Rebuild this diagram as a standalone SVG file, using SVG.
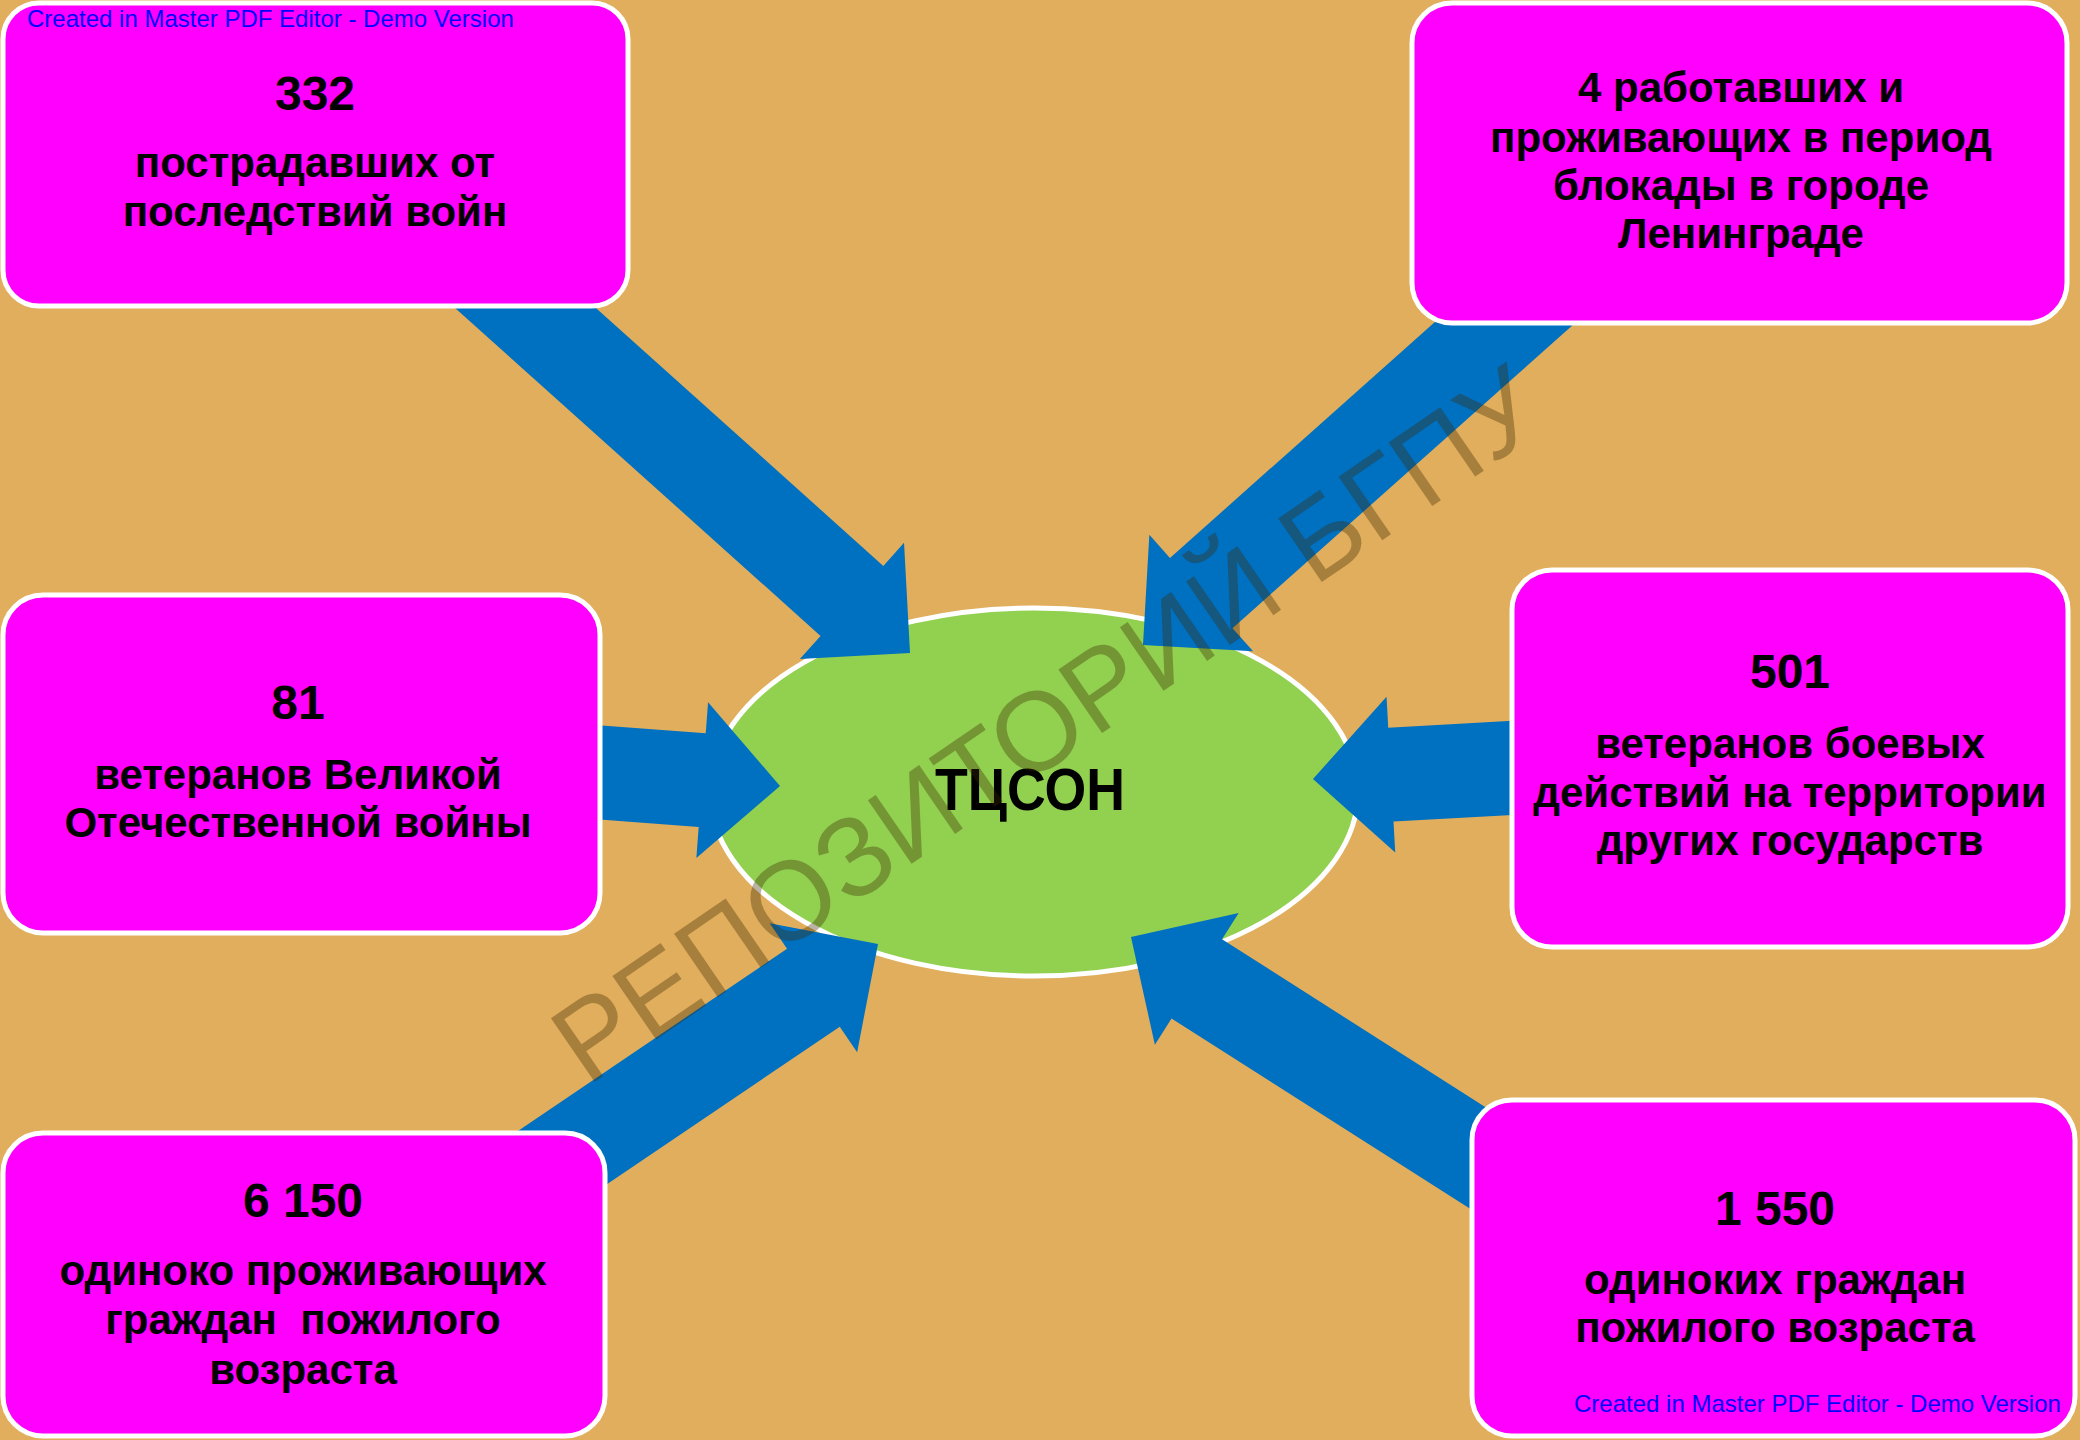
<svg xmlns="http://www.w3.org/2000/svg" width="2080" height="1440" viewBox="0 0 2080 1440">
  <style>
    .box { fill: #FF00FF; stroke: #FFFFFF; stroke-width: 5; }
    .lbl { font-family: "Liberation Sans", Arial, sans-serif; font-weight: bold; fill: #000000; text-anchor: middle; }
    .num { font-size: 48px; }
    .txt { font-size: 42px; }
    .demo { font-family: "Liberation Sans", Arial, sans-serif; font-size: 24px; fill: #0000FF; }
    .arrow { fill: #0070C0; }
    .wm { font-family: "Liberation Sans", Arial, sans-serif; font-size: 112px; fill: rgb(60,40,0); fill-opacity: 0.35; }
  </style>
  <rect x="0" y="0" width="2080" height="1440" fill="#E0AE5C"/>

  <g id="center">
    <ellipse cx="1034" cy="792" rx="324" ry="184" fill="#92D050" stroke="#FFFFFF" stroke-width="5"/>
  </g>

  <g id="connectors">
    <path class="arrow" d="M0,0 L-78,-78 L-78,-47 L-620,-47 L-620,47 L-78,47 L-78,78 Z" transform="translate(910,653) rotate(41.9)"/>
    <path class="arrow" d="M0,0 L-78,-78 L-78,-47 L-600,-47 L-600,47 L-78,47 L-78,78 Z" transform="translate(1143,645) rotate(138.3)"/>
    <path class="arrow" d="M0,0 L-78,-78 L-78,-47 L-260,-47 L-260,47 L-78,47 L-78,78 Z" transform="translate(780,786) rotate(4.3)"/>
    <path class="arrow" d="M0,0 L-78,-78 L-78,-47 L-270,-47 L-270,47 L-78,47 L-78,78 Z" transform="translate(1313,779) rotate(176.8)"/>
    <path class="arrow" d="M0,0 L-78,-78 L-78,-47 L-440,-47 L-440,47 L-78,47 L-78,78 Z" transform="translate(878,944) rotate(-34.1)"/>
    <path class="arrow" d="M0,0 L-78,-78 L-78,-47 L-480,-47 L-480,47 L-78,47 L-78,78 Z" transform="translate(1131,937) rotate(212.5)"/>
  </g>

  <g id="center-label">
    <text class="lbl" x="1030" y="810" font-size="60" textLength="190" lengthAdjust="spacingAndGlyphs">ТЦСОН</text>
  </g>

  <g id="node-332">
    <rect class="box" x="3" y="3" width="625" height="303" rx="36"/>
    <text class="lbl num" x="315" y="110">332</text>
    <text class="lbl txt" x="315" y="177">пострадавших от</text>
    <text class="lbl txt" x="315" y="226">последствий войн</text>
  </g>

  <g id="node-4">
    <rect class="box" x="1412" y="3" width="655" height="320" rx="40"/>
    <text class="lbl txt" x="1741" y="102">4 работавших и</text>
    <text class="lbl txt" x="1741" y="152">проживающих в период</text>
    <text class="lbl txt" x="1741" y="200">блокады в городе</text>
    <text class="lbl txt" x="1741" y="248">Ленинграде</text>
  </g>

  <g id="node-81">
    <rect class="box" x="3" y="595" width="597" height="338" rx="40"/>
    <text class="lbl num" x="298" y="719">81</text>
    <text class="lbl txt" x="298" y="789">ветеранов Великой</text>
    <text class="lbl txt" x="298" y="837">Отечественной войны</text>
  </g>

  <g id="node-501">
    <rect class="box" x="1512" y="570" width="556" height="377" rx="40"/>
    <text class="lbl num" x="1790" y="688">501</text>
    <text class="lbl txt" x="1790" y="758">ветеранов боевых</text>
    <text class="lbl txt" x="1790" y="807">действий на территории</text>
    <text class="lbl txt" x="1790" y="855">других государств</text>
  </g>

  <g id="node-6150">
    <rect class="box" x="3" y="1133" width="602" height="303" rx="40"/>
    <text class="lbl num" x="303" y="1217">6 150</text>
    <text class="lbl txt" x="303" y="1285">одиноко проживающих</text>
    <text class="lbl txt" x="303" y="1334" xml:space="preserve">граждан  пожилого</text>
    <text class="lbl txt" x="303" y="1384">возраста</text>
  </g>

  <g id="node-1550">
    <rect class="box" x="1472" y="1100" width="603" height="336" rx="40"/>
    <text class="lbl num" x="1775" y="1225">1 550</text>
    <text class="lbl txt" x="1775" y="1294">одиноких граждан</text>
    <text class="lbl txt" x="1775" y="1342">пожилого возраста</text>
  </g>

  <text class="demo" x="27" y="27">Created in Master PDF Editor - Demo Version</text>
  <text class="demo" x="1574" y="1412">Created in Master PDF Editor - Demo Version</text>

  <text class="wm" x="587" y="1087" transform="rotate(-34.5 587 1087)">РЕПОЗИТОРИЙ БГПУ</text>
</svg>
